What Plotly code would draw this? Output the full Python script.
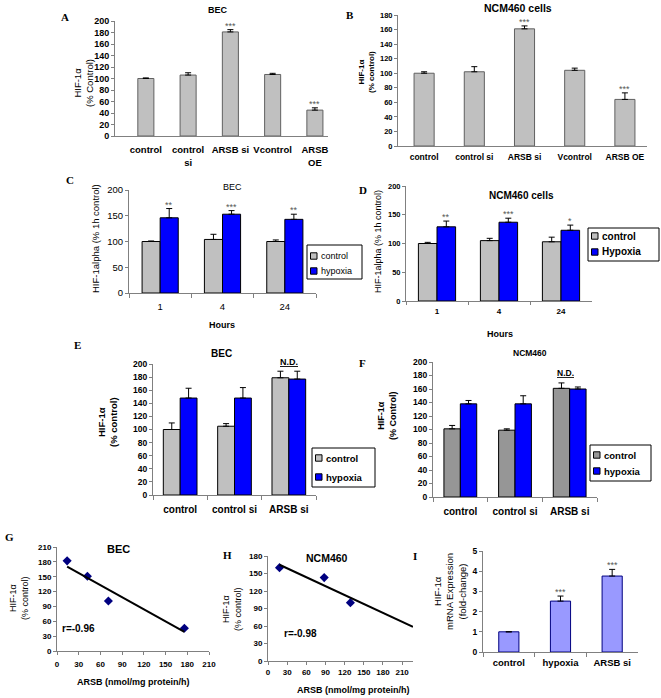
import numpy as np
import plotly.graph_objects as go

W, H = 661, 698

# ---------------- data ----------------
a_cats = ["control", "control<br>si", "ARSB si", "Vcontrol", "ARSB<br>OE"]
a_vals = [100, 106, 181, 107, 45]
a_err = [1, 4, 4, 2, 4]
a_stars = ["", "", "***", "", "***"]

b_cats = ["control", "control si", "ARSB si", "Vcontrol", "ARSB OE"]
b_vals = [100, 102, 161, 104, 64]
b_err = [2, 7, 4, 3, 9]
b_stars = ["", "", "***", "", "***"]

c_hours = ["1", "4", "24"]
c_control = [100, 104, 100]
c_control_err = [1, 10, 3]
c_hypoxia = [146, 153, 143]
c_hypoxia_err = [18, 7, 10]
c_stars = ["**", "***", "**"]
c_legend = ["control", "hypoxia"]

d_hours = ["1", "4", "24"]
d_control = [100, 105, 103]
d_control_err = [2, 4, 8]
d_hypoxia = [129, 137, 123]
d_hypoxia_err = [10, 7, 9]
d_stars = ["**", "***", "*"]
d_legend = ["control", "Hypoxia"]

e_cats = ["control", "control si", "ARSB si"]
e_control = [100, 105, 179]
e_control_err = [10, 4, 10]
e_hypoxia = [148, 148, 177]
e_hypoxia_err = [15, 16, 12]
e_legend = ["control", "hypoxia"]

f_cats = ["control", "control si", "ARSB si"]
f_control = [101, 99, 161]
f_control_err = [5, 2, 8]
f_hypoxia = [138, 138, 160]
f_hypoxia_err = [5, 12, 3]
f_legend = ["control", "hypoxia"]

g_arsb = [14, 42, 71, 176]
g_hif = [182, 151, 101, 46]
g_r = "r=-0.96"

h_arsb = [18, 88, 129]
h_hif = [160, 143, 100]
h_r = "r=-0.98"
h_xmax = 227

i_cats = ["control", "hypoxia", "ARSB si"]
i_vals = [1.0, 2.52, 3.76]
i_err = [0, 0.25, 0.33]
i_stars = ["", "***", "***"]

# ---------------- helpers ----------------
SANS = "Liberation Sans"
SERIF = "Liberation Serif"
GRAY = "#C0C0C0"
DGRAY = "#969696"
BLUE = "#0000FF"
AX = "#808080"


def px(x):
    return x / W


def py(y):
    return 1 - y / H


boxes = {
    1: (115, 328, 21, 136),   # A
    2: (398, 647, 15, 146),   # B
    3: (129, 316, 190, 293),  # C
    4: (406, 592, 186, 301),  # D
    5: (153, 316, 364, 495),  # E
    6: (433, 597, 362, 497),  # F
    7: (57, 209, 547, 651),   # G
    8: (268, 413, 556, 661),  # H
    9: (483, 638, 551, 652),  # I
}

fig = go.Figure()
layout = dict(
    width=W, height=H, margin=dict(l=0, r=0, t=0, b=0, autoexpand=False),
    paper_bgcolor="white", plot_bgcolor="rgba(0,0,0,0)",
    showlegend=False, font=dict(family=SANS, color="black"),
)
annotations = []
shapes = []


def ax_names(k):
    s = "" if k == 1 else str(k)
    return "x" + s, "y" + s, "xaxis" + s, "yaxis" + s


def set_axes(k, xopts, yopts):
    xn, yn, xk, yk = ax_names(k)
    x0, x1, y0, y1 = boxes[k]
    base = dict(showline=True, linecolor=AX, linewidth=1, showgrid=False,
                zeroline=False, tickcolor=AX, ticklen=3, fixedrange=True)
    xa = dict(base, domain=[px(x0), px(x1)], anchor=yn, tickangle=0)
    xa.update(xopts)
    ya = dict(base, domain=[py(y1), py(y0)], anchor=xn, ticks="outside")
    ya.update(yopts)
    layout[xk] = xa
    layout[yk] = ya


def tf(size, bold=True):
    return dict(family=SANS, size=size, color="black", weight="bold" if bold else "normal")


def err(vals):
    return dict(type="data", array=vals, arrayminus=[0] * len(vals), symmetric=False,
                color="black", thickness=1, width=3)


def text(x, y, t, size, bold=False, angle=0, family=SANS, xanchor="center", color="black", **kw):
    annotations.append(dict(x=px(x), y=py(y), xref="paper", yref="paper", text=t,
                            showarrow=False, textangle=angle, xanchor=xanchor, yanchor="middle",
                            font=dict(family=family, size=size, color=color,
                                      weight="bold" if bold else "normal", **kw)))


def stars(k, xs, ys, labels, size=9):
    xn, yn, _, _ = ax_names(k)
    for x, y, s in zip(xs, ys, labels):
        if s:
            annotations.append(dict(x=x, y=y, xref=xn, yref=yn, text=s, showarrow=False,
                                    yanchor="bottom", yshift=-3,
                                    font=dict(family=SANS, size=size, color="#555555")))


def legend(x0, y0, x1, y1, labels, colors, ycs, size, bold):
    shapes.append(dict(type="rect", xref="paper", yref="paper", x0=px(x0), x1=px(x1),
                       y0=py(y1), y1=py(y0), line=dict(color="black", width=1),
                       fillcolor="white", layer="above"))
    for lab, col, yc in zip(labels, colors, ycs):
        shapes.append(dict(type="rect", xref="paper", yref="paper", x0=px(x0 + 3.5),
                           x1=px(x0 + 10), y0=py(yc + 3.2), y1=py(yc - 3.2),
                           line=dict(color="black", width=1), fillcolor=col, layer="above"))
        text(x0 + 12, yc, lab, size, bold=bold, xanchor="left")


def simple_bars(k, cats, vals, errs, width, color, line):
    xn, yn, _, _ = ax_names(k)
    fig.add_trace(go.Bar(x=cats, y=vals, error_y=err(errs), width=width,
                         marker=dict(color=color, line=dict(color=line, width=1)),
                         xaxis=xn, yaxis=yn, name="HIF-1α"))


def group_bars(k, cats, cv, ce, hv, he, names, ccol, hcol, w):
    xn, yn, _, _ = ax_names(k)
    fig.add_trace(go.Bar(x=cats, y=cv, error_y=err(ce), width=w, offset=-w, name=names[0],
                         marker=dict(color=ccol, line=dict(color="black", width=1)),
                         xaxis=xn, yaxis=yn))
    fig.add_trace(go.Bar(x=cats, y=hv, error_y=err(he), width=w, offset=0, name=names[1],
                         marker=dict(color=hcol, line=dict(color="black", width=1)),
                         xaxis=xn, yaxis=yn))


# ---------------- Panel A ----------------
simple_bars(1, a_cats, a_vals, a_err, 0.38, GRAY, "#606060")
set_axes(1, dict(type="category", range=[-0.73, 4.31], ticks="", tickfont=tf(9.5),
                 ticklabelstandoff=5),
         dict(range=[0, 200], dtick=20, tickfont=tf(9)))
stars(1, list(range(5)), [v + e for v, e in zip(a_vals, a_err)], a_stars)
text(218, 10, "BEC", 9, bold=True)
text(65, 17, "A", 11, bold=True, family=SERIF)
text(84, 83, "HIF-1α<br>(% Control)", 9.5, angle=-90)

# ---------------- Panel B ----------------
simple_bars(2, b_cats, b_vals, b_err, 0.4, GRAY, "#606060")
set_axes(2, dict(type="category", range=[-0.52, 4.44], ticks="", tickfont=tf(8.5),
                 ticklabelstandoff=3),
         dict(range=[0, 180], dtick=20, tickfont=tf(7.5)))
stars(2, list(range(5)), [v + e for v, e in zip(b_vals, b_err)], b_stars)
text(518, 8, "NCM460 cells", 10.5, bold=True)
text(350, 15, "B", 11, bold=True, family=SERIF)
text(366, 72, "HIF-1α<br>(% control)", 8, bold=True, angle=-90)

# ---------------- Panel C ----------------
group_bars(3, c_hours, c_control, c_control_err, c_hypoxia, c_hypoxia_err,
           c_legend, GRAY, BLUE, 0.29)
set_axes(3, dict(type="category", range=[-0.5, 2.5], ticks="outside", tickson="boundaries",
                 ticklen=4, tickfont=tf(9.5, False), ticklabelstandoff=5),
         dict(range=[0, 200], dtick=50, tickfont=tf(9.5, False)))
stars(3, [i + 0.145 for i in range(3)], [v + e for v, e in zip(c_hypoxia, c_hypoxia_err)], c_stars)
text(232, 187, "BEC", 9)
text(70, 180, "C", 11, bold=True, family=SERIF)
text(95, 238, "HIF-1alpha (% 1h control)", 9.5, angle=-90)
text(222, 325, "Hours", 9, bold=True)
legend(307, 245, 362, 279, c_legend, [GRAY, BLUE], [256, 271], 9, False)

# ---------------- Panel D ----------------
group_bars(4, d_hours, d_control, d_control_err, d_hypoxia, d_hypoxia_err,
           d_legend, GRAY, BLUE, 0.3)
set_axes(4, dict(type="category", range=[-0.5, 2.5], ticks="outside", tickson="boundaries",
                 ticklen=3, tickfont=tf(8), ticklabelstandoff=2),
         dict(range=[0, 200], dtick=50, tickfont=tf(7.5)))
stars(4, [i + 0.15 for i in range(3)], [v + e for v, e in zip(d_hypoxia, d_hypoxia_err)], d_stars)
text(521, 195, "NCM460 cells", 10, bold=True)
text(363, 190, "D", 11, bold=True, family=SERIF)
text(378, 242, "HIF-1alpha (% 1h control)", 9, angle=-90)
text(500, 334, "Hours", 9, bold=True)
legend(588, 228, 659, 261, d_legend, [GRAY, BLUE], [236, 252], 10, True)

# ---------------- Panel E ----------------
group_bars(5, e_cats, e_control, e_control_err, e_hypoxia, e_hypoxia_err,
           e_legend, GRAY, BLUE, 0.31)
set_axes(5, dict(type="category", range=[-0.5, 2.5], ticks="outside", tickson="boundaries",
                 ticklen=4, tickfont=tf(10), ticklabelstandoff=5),
         dict(range=[0, 200], dtick=20, tickfont=tf(8.5)))
text(221, 353, "BEC", 10, bold=True)
text(289, 362, "N.D.", 9, bold=True, lineposition="under")
text(77, 345, "E", 11, bold=True, family=SERIF)
text(107, 422, "HIF-1α<br>(% control)", 9.5, bold=True, angle=-90)
legend(312, 448, 375, 487, e_legend, [GRAY, BLUE], [458, 477], 9.5, True)

# ---------------- Panel F ----------------
group_bars(6, f_cats, f_control, f_control_err, f_hypoxia, f_hypoxia_err,
           f_legend, DGRAY, BLUE, 0.3)
set_axes(6, dict(type="category", range=[-0.5, 2.5], ticks="outside", tickson="boundaries",
                 ticklen=4, tickfont=tf(10), ticklabelstandoff=5),
         dict(range=[0, 200], dtick=20, tickfont=tf(8.5)))
text(530, 353, "NCM460", 8.5, bold=True)
text(565, 373, "N.D.", 8.5, bold=True, lineposition="under")
text(362, 363, "F", 11, bold=True, family=SERIF)
text(387, 415, "HIF-1α<br>(% Control)", 9, bold=True, angle=-90)
legend(590, 445, 651, 481, f_legend, [DGRAY, BLUE], [455, 471], 9.5, True)

# ---------------- Panel G ----------------
gk, gb = np.polyfit(g_arsb, g_hif, 1)
g_line_x = [min(g_arsb), max(g_arsb)]
fig.add_trace(go.Scatter(x=g_arsb, y=g_hif, mode="markers", name="BEC",
                         marker=dict(symbol="diamond", size=7, color="#000080"),
                         xaxis="x7", yaxis="y7"))
fig.add_trace(go.Scatter(x=g_line_x, y=[gk * v + gb for v in g_line_x], mode="lines",
                         name="fit", line=dict(color="black", width=2), xaxis="x7", yaxis="y7"))
set_axes(7, dict(range=[0, 210], dtick=30, ticks="outside", tickfont=tf(8), ticklabelstandoff=2),
         dict(range=[0, 210], dtick=30, tickfont=tf(8)))
text(118, 549, "BEC", 11, bold=True)
text(78, 628, g_r, 10, bold=True)
text(9, 537, "G", 11, bold=True, family=SERIF)
text(19, 598, "HIF-1α<br>(% control)", 9, angle=-90)
text(133, 682, "ARSB (nmol/mg protein/h)", 9, bold=True)

# ---------------- Panel H ----------------
hk, hb = np.polyfit(h_arsb, h_hif, 1)
h_line_x = [min(h_arsb), h_xmax]
fig.add_trace(go.Scatter(x=h_arsb, y=h_hif, mode="markers", name="NCM460",
                         marker=dict(symbol="diamond", size=7, color="#000080"),
                         xaxis="x8", yaxis="y8"))
fig.add_trace(go.Scatter(x=h_line_x, y=[hk * v + hb for v in h_line_x], mode="lines",
                         name="fit", line=dict(color="black", width=2), xaxis="x8", yaxis="y8"))
set_axes(8, dict(range=[0, h_xmax], tickvals=list(range(0, 211, 30)), ticks="outside",
                 tickfont=tf(8), ticklabelstandoff=0),
         dict(range=[0, 180], dtick=30, tickfont=tf(8)))
text(327, 558, "NCM460", 10.5, bold=True)
text(300, 633, h_r, 10, bold=True)
text(227, 555, "H", 11, bold=True, family=SERIF)
text(232, 609, "HIF-1α<br>(% control)", 9, angle=-90)
text(353, 690, "ARSB (nmol/mg protein/h)", 9, bold=True)

# ---------------- Panel I ----------------
simple_bars(9, i_cats, i_vals, i_err, 0.39, "#9999FF", "#000080")
set_axes(9, dict(type="category", range=[-0.5, 2.5], ticks="outside", tickson="boundaries",
                 ticklen=4, tickfont=tf(9.5), ticklabelstandoff=2),
         dict(range=[0, 5], dtick=1, tickfont=tf(8.5)))
stars(9, list(range(3)), [v + e for v, e in zip(i_vals, i_err)], i_stars)
text(415, 556, "I", 11, bold=True, family=SERIF)
text(450, 592, "HIF-1α<br>mRNA Expression<br>(fold-change)", 9.5, angle=-90)

layout["annotations"] = annotations
layout["shapes"] = shapes
fig.update_layout(**layout)
fig.write_html(
    "out.html",
    config={"displayModeBar": False},
    post_script="document.documentElement.style.margin='0';document.body.style.margin='0';"
                "document.body.style.overflow='hidden';",
)
